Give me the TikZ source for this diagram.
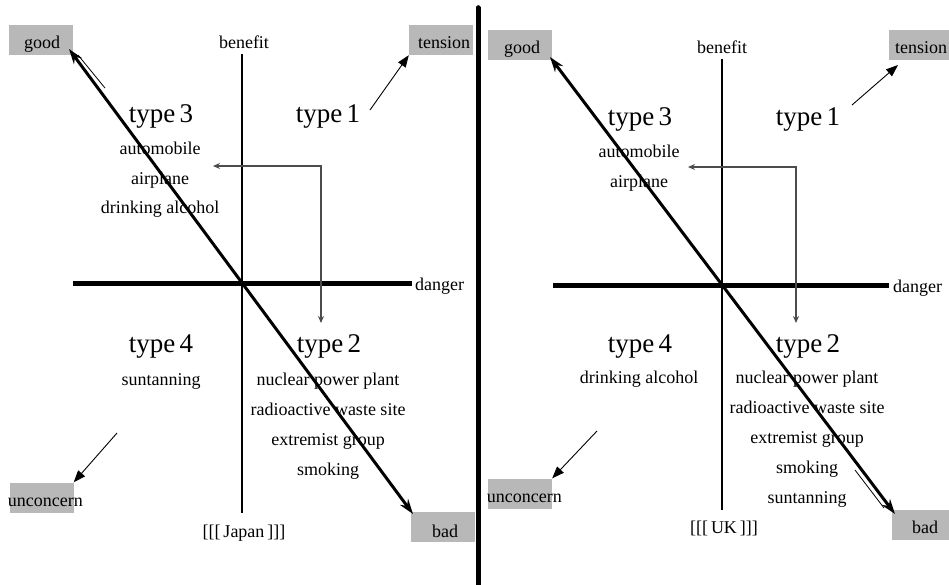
\documentclass[tikz,border=0pt]{standalone}
\usepackage{fontspec}
\setmainfont{Liberation Serif}
\usetikzlibrary{arrows.meta}
\begin{document}
\begin{tikzpicture}[x=1pt,y=-1pt,
  lbl/.style={font=\fontsize{18}{18}\selectfont,inner sep=0pt,anchor=base},
  typ/.style={font=\fontsize{27}{27}\selectfont,inner sep=0pt,anchor=base},
  graybox/.style={fill=black!28,inner sep=0pt,minimum width=64pt,minimum height=30pt},
  axisv/.style={line width=2.8pt},
  axish/.style={line width=5pt},
  diag/.style={line width=3pt,{Stealth[length=15pt,width=10pt]}-{Stealth[length=15pt,width=10pt]}},
  thinarrow/.style={line width=0.9pt,-{Triangle[length=12pt,width=9pt]}},
  larrow/.style={line width=1.3pt,black!70,{Stealth[length=7pt,width=6pt]}-{Stealth[length=7pt,width=6pt]}},
  thinline/.style={line width=0.8pt}]
\useasboundingbox (0,0) rectangle (949,584);
% divider
\node[inner sep=0pt] (divtop) at (478,7) {};
\node[inner sep=0pt] (divbot) at (478,590) {};
\draw[line width=5pt,line cap=round] (divtop) -- (divbot);

% ================= LEFT PANEL =================
\node[graybox] (goodL) at (41,40) {};
\node[lbl] (goodLt) at (42,48) {good};
\node[graybox] (tensL) at (441,40) {};
\node[lbl] (tensLt) at (444,48) {tension};
\node[graybox] (uncL) at (41.5,497.5) {};
\node[lbl,anchor=base east] (uncLt) at (83,506) {unconcern};
\node[graybox] (badL) at (442.5,527) {};
\node[lbl] (badLt) at (445,537) {bad};

\node[lbl] (benL) at (244,48) {benefit};
\node[lbl,anchor=base west] (danL) at (415,290) {danger};
\node[lbl] (japL) at (244,537) {[[[\,Japan\,]]]};

\coordinate (vtopL) at (242,54);
\coordinate (vbotL) at (242,513);
\coordinate (hleftL) at (73,283);
\coordinate (hrightL) at (412,283);
\draw[axisv] (vtopL) -- (vbotL);
\draw[axish] (hleftL) -- (hrightL);

\coordinate (gtipL) at (69,49);
\coordinate (btipL) at (413,514);
\draw[diag] (gtipL) -- (btipL);
\coordinate (t1aL) at (105,88);
\coordinate (t1bL) at (78,55);
\draw[thinline] (t1aL) -- (t1bL);

\node[typ] (t3L) at (161,122) {type\,3};
\node[lbl] (a1L) at (160,154) {automobile};
\node[lbl] (a2L) at (160,184) {airplane};
\node[lbl] (a3L) at (160,213) {drinking alcohol};

\node[typ] (t1L) at (328,122) {type\,1};
\coordinate (ta1L) at (370,110);
\draw[thinarrow] (ta1L) -- (tensL.south west);

\node[typ] (t4L) at (161,352) {type\,4};
\node[lbl] (b1L) at (161,385) {suntanning};
\coordinate (ua1L) at (117,433);
\draw[thinarrow] (ua1L) -- (uncL.north east);

\node[typ] (t2L) at (329,352) {type\,2};
\node[lbl] (c1L) at (328,385) {nuclear power plant};
\node[lbl] (c2L) at (328,415) {radioactive waste site};
\node[lbl] (c3L) at (328,445) {extremist group};
\node[lbl] (c4L) at (328,475) {smoking};

\coordinate (lA) at (213,166);
\coordinate (lB) at (321,166);
\coordinate (lC) at (321,323);
\draw[larrow] (lA) -- (lB) -- (lC);

% ================= RIGHT PANEL =================
\node[graybox] (goodR) at (520,44.5) {};
\node[lbl] (goodRt) at (522,53) {good};
\node[graybox] (tensR) at (921,44.5) {};
\node[lbl,anchor=base west] (tensRt) at (895,53) {tension};
\node[graybox] (uncR) at (520,493.5) {};
\node[lbl,anchor=base east] (uncRt) at (562,502) {unconcern};
\node[graybox,minimum width=66pt] (badR) at (925,525) {};
\node[lbl] (badRt) at (925,533) {bad};

\node[lbl] (benR) at (722,53) {benefit};
\node[lbl,anchor=base west] (danR) at (893,292) {danger};
\node[lbl] (ukR) at (724,533) {[[[\,UK\,]]]};

\coordinate (vtopR) at (722,59);
\coordinate (vbotR) at (722,510);
\coordinate (hleftR) at (553,285);
\coordinate (hrightR) at (889,285);
\draw[axisv] (vtopR) -- (vbotR);
\draw[axish] (hleftR) -- (hrightR);

\coordinate (gtipR) at (550,57);
\coordinate (btipR) at (895,514);
\draw[diag] (gtipR) -- (btipR);
\coordinate (t1aR) at (855,470);
\coordinate (t1bR) at (884,508);
\draw[thinline] (t1aR) -- (t1bR);

\node[typ] (t3R) at (640,125) {type\,3};
\node[lbl] (a1R) at (639,157) {automobile};
\node[lbl] (a2R) at (639,187) {airplane};

\node[typ] (t1R) at (808,125) {type\,1};
\coordinate (ta1R) at (852,105);
\draw[thinarrow] (ta1R) -- (898,65);

\node[typ] (t4R) at (640,352) {type\,4};
\node[lbl] (b1R) at (639,383) {drinking alcohol};
\coordinate (ua1R) at (597,431);
\draw[thinarrow] (ua1R) -- (uncR.north east);

\node[typ] (t2R) at (808,352) {type\,2};
\node[lbl] (c1R) at (807,383) {nuclear power plant};
\node[lbl] (c2R) at (807,413) {radioactive waste site};
\node[lbl] (c3R) at (807,443) {extremist group};
\node[lbl] (c4R) at (807,473) {smoking};
\node[lbl] (c5R) at (807,503) {suntanning};

\coordinate (rA) at (688,167);
\coordinate (rB) at (796,167);
\coordinate (rC) at (796,323);
\draw[larrow] (rA) -- (rB) -- (rC);
\end{tikzpicture}
\end{document}
